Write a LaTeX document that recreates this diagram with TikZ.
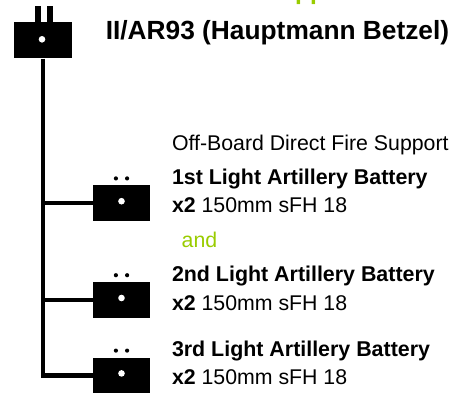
\documentclass[tikz,border=0pt]{standalone}
\usepackage{fontspec}
\setmainfont{Liberation Sans}
\definecolor{limegreen}{RGB}{153,204,0}
\begin{document}
\begin{tikzpicture}[x=1pt,y=-1pt,
  unitbox/.style={fill=black, draw=none, minimum width=57.5pt, minimum height=35.5pt, inner sep=0pt},
  conn/.style={line width=4.3pt, line cap=butt, line join=miter},
  lbl/.style={anchor=base west, inner sep=0pt, font=\fontsize{21.3}{25}\selectfont},
  bl/.style={anchor=base west, inner sep=0pt, font=\bfseries\fontsize{21.4}{25}\selectfont},
  whitedot/.style={fill=white},
  blackdot/.style={fill=black}]
\useasboundingbox (0,0) rectangle (456,392);
% cut-off heading above
\node[anchor=base west, inner sep=0pt, text=limegreen, font=\bfseries\fontsize{24.5}{28}\selectfont] (heading) at (263.7,-0.5) {Support};
% HQ
\node[unitbox, minimum width=57.7pt, minimum height=36.6pt] (hq) at (42.85,40) {};
\fill (35.3,6) rectangle (40.5,21.9);
\fill (47.2,6) rectangle (52.5,21.9);
\fill[whitedot] (42,39.3) circle (3.3pt);
\node[anchor=base west, inner sep=0pt, font=\bfseries\fontsize{26.3}{30}\selectfont] (title) at (105.6,39.3) {II/AR93 (Hauptmann Betzel)};
% batteries
\node[unitbox] (b1) at (121.5,203.2) {};
\node[unitbox] (b2) at (121.5,300) {};
\node[unitbox] (b3) at (121.5,375.4) {};
\foreach \b in {b1,b2,b3}{
  \fill[whitedot] ([yshift=2pt]\b.center) circle (3.3pt);
  \fill[blackdot] ([xshift=-5.6pt,yshift=24.8pt]\b.center) circle (2.1pt);
  \fill[blackdot] ([xshift=5.6pt,yshift=24.8pt]\b.center) circle (2.1pt);
}
% connectors
\coordinate (t1) at (42.85,203.2);
\coordinate (t2) at (42.85,300);
\draw[conn] (hq.south) |- (b3.west);
\draw[conn] (t1) -- (b1.west);
\draw[conn] (t2) -- (b2.west);
% labels
\node[lbl] (ob) at (171.8,150) {Off-Board Direct Fire Support};
\node[bl] (n1) at (171.8,184.5) {1st Light Artillery Battery};
\node[lbl] (e1) at (171.8,212.5) {\textbf{x2} 150mm sFH 18};
\node[lbl, text=limegreen] (and) at (181.5,247) {and};
\node[bl] (n2) at (171.8,281.3) {2nd Light Artillery Battery};
\node[lbl] (e2) at (171.8,310.3) {\textbf{x2} 150mm sFH 18};
\node[bl] (n3) at (171.8,356) {3rd Light Artillery Battery};
\node[lbl] (e3) at (171.8,384) {\textbf{x2} 150mm sFH 18};
\end{tikzpicture}
\end{document}
